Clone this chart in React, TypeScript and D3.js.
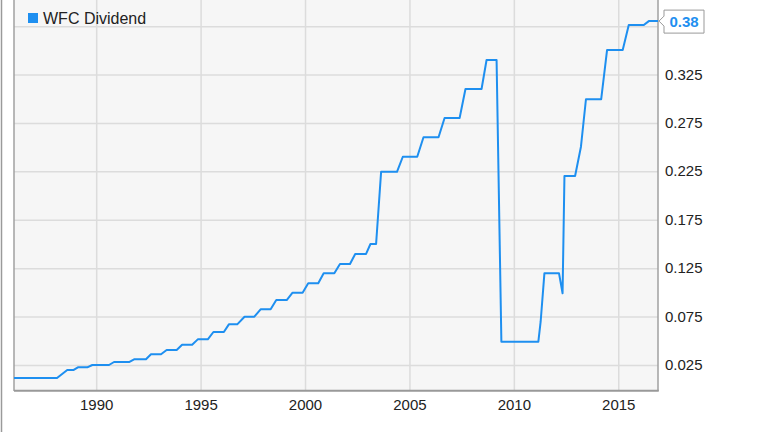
import React from "react";
import * as d3 from "d3";

const seriesName = "WFC Dividend";
const years = [
  1986.04, 1988.1, 1988.59, 1988.9, 1989.1, 1989.55, 1989.79, 1990.59, 1990.83, 1991.55,
  1991.79, 1992.36, 1992.6, 1993.08, 1993.35, 1993.83, 1994.09, 1994.57, 1994.84, 1995.32,
  1995.59, 1996.09, 1996.33, 1996.73, 1997.08, 1997.55, 1997.85, 1998.33, 1998.6, 1999.1,
  1999.38, 1999.86, 2000.13, 2000.61, 2000.87, 2001.38, 2001.65, 2002.13, 2002.38, 2002.9,
  2003.11, 2003.38, 2003.62, 2004.38, 2004.66, 2005.35, 2005.65, 2006.37, 2006.66, 2007.38,
  2007.66, 2008.43, 2008.67, 2009.15, 2009.38, 2011.15, 2011.26, 2011.44, 2012.14, 2012.31,
  2012.4, 2012.91, 2013.19, 2013.43, 2014.16, 2014.44, 2015.19, 2015.48, 2016.2, 2016.44,
  2016.88,
];
const dividends = [
  0.012, 0.012, 0.0204, 0.0204, 0.0231, 0.0231, 0.0255, 0.0255, 0.0286, 0.0286,
  0.0314, 0.0314, 0.0366, 0.0366, 0.041, 0.041, 0.0465, 0.0465, 0.052, 0.052,
  0.0596, 0.0596, 0.0675, 0.0675, 0.0754, 0.0754, 0.083, 0.083, 0.0926, 0.0926,
  0.1002, 0.1002, 0.1099, 0.1099, 0.1202, 0.1202, 0.1298, 0.1298, 0.1402, 0.1402,
  0.1505, 0.1505, 0.225, 0.225, 0.2406, 0.2406, 0.2607, 0.2607, 0.2806, 0.2806,
  0.3106, 0.3106, 0.3405, 0.3405, 0.0496, 0.0496, 0.0702, 0.1202, 0.1202, 0.0996,
  0.2207, 0.2207, 0.251, 0.3, 0.3, 0.3508, 0.3508, 0.3766, 0.3766, 0.3807,
  0.3807,
];
const xTicks = [1990, 1995, 2000, 2005, 2010, 2015];
const yTicks = [0.025, 0.075, 0.125, 0.175, 0.225, 0.275, 0.325];
const lastLabel = "0.38";

const W = 764;
const H = 432;
const left = 14;
const right = 658;
const top = 0;
const bottom = 390;
const BLUE = "#1e8ff0";
const FONT = "'Liberation Sans', Arial, sans-serif";

export default function App() {
  const x = d3.scaleLinear().domain([1986.04, 2016.88]).range([left, right]);
  const y = d3.scaleLinear().domain([0, 0.4025]).range([389.7, 0]);
  const pts = years.map((yr, i) => [yr, dividends[i]] as [number, number]);
  const line = d3
    .line<[number, number]>()
    .x((d) => x(d[0]))
    .y((d) => y(d[1]));
  const last = pts[pts.length - 1];
  const lx = x(last[0]);
  const ly = y(last[1]);

  return (
    <svg
      width={W}
      height={H}
      style={{ position: "absolute", left: 0, top: 0, background: "#fff" }}
      fontFamily={FONT}
    >
      <line x1={1.5} x2={1.5} y1={0} y2={H} stroke="#9a9a9a" strokeWidth={1.5} />
      <rect x={left} y={top} width={right - left} height={bottom - top} fill="#f6f6f6" />
      {xTicks.map((t) => (
        <line key={"gx" + t} x1={x(t)} x2={x(t)} y1={top} y2={bottom} stroke="#dcdcdc" strokeWidth={1.5} />
      ))}
      {[...yTicks, 0.375].map((t) => (
        <line key={"gy" + t} x1={left} x2={right} y1={y(t)} y2={y(t)} stroke="#dcdcdc" strokeWidth={1.5} />
      ))}
      <line x1={left} x2={left} y1={top} y2={bottom + 1} stroke="#a0a0a0" strokeWidth={1.5} />
      <line x1={right} x2={right} y1={top} y2={bottom + 1} stroke="#a0a0a0" strokeWidth={1.5} />
      <line x1={left} x2={right + 0.75} y1={bottom + 0.75} y2={bottom + 0.75} stroke="#999" strokeWidth={2} />
      <path d={line(pts) || ""} fill="none" stroke={BLUE} strokeWidth={2} strokeLinejoin="round" />
      {xTicks.map((t) => (
        <text key={"tx" + t} x={x(t)} y={410} textAnchor="middle" fontSize={15} fill="#222">
          {t}
        </text>
      ))}
      {yTicks.map((t) => (
        <text key={"ty" + t} x={665} y={y(t) + 4.5} fontSize={15} fill="#222">
          {d3.format(".3f")(t)}
        </text>
      ))}
      <path
        d={`M${lx + 1},${ly} L${lx + 6},${ly - 5} L${lx + 6},${ly - 11} L${lx + 46},${ly - 11} L${lx + 46},${ly + 12} L${lx + 6},${ly + 12} L${lx + 6},${ly + 5} Z`}
        fill="#fff"
        stroke="#999"
        strokeWidth={1}
      />
      <text x={lx + 26} y={ly + 6} textAnchor="middle" fontSize={15} fontWeight="bold" fill={BLUE}>
        {lastLabel}
      </text>
      <rect x={28} y={13} width={10} height={10} fill={BLUE} />
      <text x={43} y={23.5} fontSize={16} fill="#222">
        {seriesName}
      </text>
    </svg>
  );
}
